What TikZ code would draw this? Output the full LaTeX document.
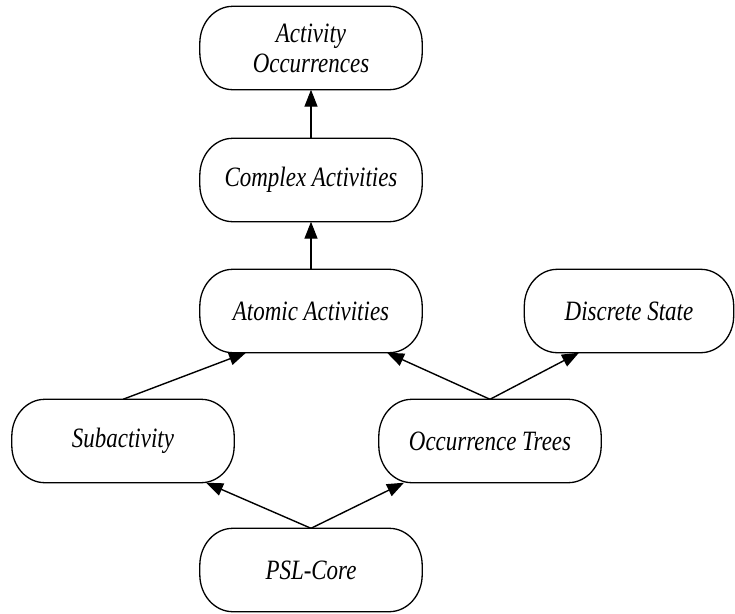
\documentclass[tikz,border=0pt]{standalone}
\usepackage{fontspec}
\setmainfont{Liberation Serif}
\newfontfamily\lblfont[FakeStretch=0.82]{Liberation Serif}
\usetikzlibrary{arrows.meta}
\tikzset{
  box/.style={rectangle, draw=none, minimum width=222pt, minimum height=83pt,
    inner sep=0pt, align=center, font=\lblfont\fontsize{28}{30}\selectfont\itshape},
  outline/.style={line width=1.3pt, line join=round},
  conn/.style={line width=1.4pt, -{Triangle[length=17pt,width=13pt]}}
}
\newcommand{\boxoutline}[1]{%
  \draw[outline] ([xshift=33pt]#1.north west) -- ([xshift=-33pt]#1.north east)
    arc[start angle=90,end angle=0,x radius=33pt,y radius=37pt]
    -- ([yshift=37pt]#1.south east)
    arc[start angle=0,end angle=-90,x radius=33pt,y radius=37pt]
    -- ([xshift=33pt]#1.south west)
    arc[start angle=270,end angle=180,x radius=33pt,y radius=37pt]
    -- ([yshift=-37pt]#1.north west)
    arc[start angle=180,end angle=90,x radius=33pt,y radius=37pt] -- cycle;}
\begin{document}
\begin{tikzpicture}[x=1pt,y=1pt]
\useasboundingbox (0,0) rectangle (735,-613);
\node[box] (occ)  at (311,-48)  {Activity\\Occurrences};
\node[box] (cplx) at (311,-180) {Complex Activities};
\node[box] (atom) at (311,-311) {Atomic Activities};
\node[box, minimum width=209pt] (disc) at (629,-311) {Discrete State};
\node[box] (sub)  at (123,-441) {Subactivity};
\node[box] (tree) at (490,-441) {Occurrence Trees};
\node[box] (psl)  at (311,-570) {PSL-Core};
\foreach \n in {occ,cplx,atom,disc,sub,tree,psl}{\boxoutline{\n}}
\draw[conn] (cplx.north) -- (occ.south);
\draw[conn] (atom.north) -- (cplx.south);
\draw[conn] (sub.north) -- ([xshift=-65pt]atom.south);
\draw[conn] (tree.north) -- ([xshift=76pt]atom.south);
\draw[conn] (tree.north) -- ([xshift=-50pt]disc.south);
\draw[conn] (psl.north) -- ([xshift=83pt]sub.south);
\draw[conn] (psl.north) -- ([xshift=-86pt]tree.south);
\end{tikzpicture}
\end{document}
